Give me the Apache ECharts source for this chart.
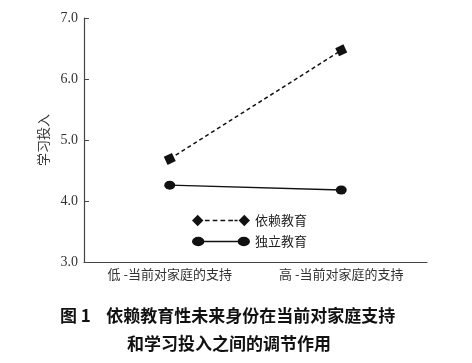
<!DOCTYPE html>
<html><head><meta charset="utf-8">
<script src="https://cdn.jsdelivr.net/npm/echarts@6/dist/echarts.min.js"></script>
<style>html,body{margin:0;padding:0;background:#fff;}#c{width:472px;height:363px;}</style>
</head><body><div id="c"></div>
<script>
const categories = ['低 -当前对家庭的支持', '高 -当前对家庭的支持'];
const dependentEdu = [4.69, 6.47];
const independentEdu = [4.26, 4.18];
const yTicks = [3.0, 4.0, 5.0, 6.0, 7.0];
const seriesNames = ['依赖教育', '独立教育'];
const captionLine1 = '图 1    依赖教育性未来身份在当前对家庭支持';
const captionLine2 = '和学习投入之间的调节作用';

const serif = '"Liberation Serif", "Times New Roman", serif';
const cjk = '"Noto Sans CJK SC", sans-serif';
const dashIcon = 'path://M0 5L5.5 -0.5L11 5L5.5 10.5Z M45 5L50.5 -0.5L56 5L50.5 10.5Z M12.5 4.3H17V5.7H12.5Z M20 4.3H24.5V5.7H20Z M27.5 4.3H32V5.7H27.5Z M35 4.3H39.5V5.7H35Z M41 4.3H44V5.7H41Z';
const solidIcon = 'path://M0 5A6 4.5 0 1 1 12 5A6 4.5 0 1 1 0 5Z M44 5A6 4.5 0 1 1 56 5A6 4.5 0 1 1 44 5Z M11 4.3H45V5.7H11Z';

const chart = echarts.init(document.getElementById('c'));
chart.setOption({
  animation: false,
  grid: { left: 84, right: 45, top: 18, bottom: 101 },
  legend: {
    orient: 'vertical', left: 187, top: 209, itemWidth: 58, itemHeight: 12, itemGap: 8,
    textStyle: { fontFamily: cjk, fontSize: 13, color: '#222' },
    data: [
      { name: seriesNames[0], icon: dashIcon, itemStyle: { color: '#111' } },
      { name: seriesNames[1], icon: solidIcon, itemStyle: { color: '#111' } }
    ]
  },
  xAxis: {
    type: 'category', data: categories, boundaryGap: true,
    axisLine: { lineStyle: { color: '#444', width: 1.2 } },
    axisTick: { inside: true, length: 5, lineStyle: { color: '#444' } },
    axisLabel: { fontFamily: cjk, fontSize: 13, color: '#333', margin: 6 }
  },
  yAxis: {
    type: 'value', min: yTicks[0], max: yTicks[yTicks.length - 1], interval: 1,
    name: '学习投入', nameLocation: 'middle', nameRotate: 90, nameGap: 24,
    nameTextStyle: { fontFamily: cjk, fontSize: 13, color: '#333' },
    axisLine: { show: true, lineStyle: { color: '#444', width: 1.2 } },
    axisTick: { show: true, inside: true, length: 5, lineStyle: { color: '#444' } },
    splitLine: { show: false },
    axisLabel: { fontFamily: serif, fontSize: 14, color: '#333', margin: 6,
      formatter: v => v.toFixed(1) }
  },
  series: [
    { name: seriesNames[0], type: 'line', data: dependentEdu,
      symbol: 'rect', symbolSize: 9, symbolRotate: 25,
      lineStyle: { color: '#111', width: 1.5, type: [4, 3] },
      itemStyle: { color: '#111' } },
    { name: seriesNames[1], type: 'line', data: independentEdu,
      symbol: 'circle', symbolSize: [11, 9],
      lineStyle: { color: '#111', width: 1.3 },
      itemStyle: { color: '#111' } }
  ],
  graphic: [
    { type: 'text', left: 60, top: 307, style: { text: captionLine1, font: 'bold 17px ' + cjk, fill: '#111' } },
    { type: 'text', left: 127, top: 335, style: { text: captionLine2, font: 'bold 17px ' + cjk, fill: '#111' } }
  ]
});
</script></body></html>
